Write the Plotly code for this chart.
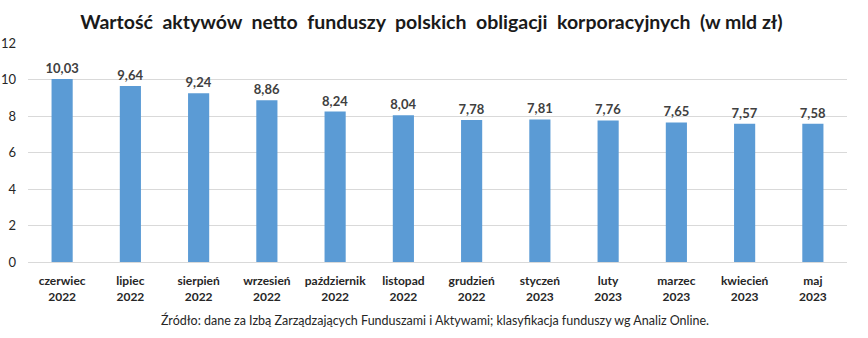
import plotly.graph_objects as go

months = ["czerwiec", "lipiec", "sierpień", "wrzesień", "październik", "listopad",
          "grudzień", "styczeń", "luty", "marzec", "kwiecień", "maj"]
years = ["2022", "2022", "2022", "2022", "2022", "2022",
         "2022", "2023", "2023", "2023", "2023", "2023"]
values = [10.03, 9.64, 9.24, 8.86, 8.24, 8.04, 7.78, 7.81, 7.76, 7.65, 7.57, 7.58]
y_ticks = [0, 2, 4, 6, 8, 10, 12]

FONT = "Lato, Open Sans, sans-serif"
categories = [f"<b>{m}<br>{y}</b>" for m, y in zip(months, years)]
labels = [f"<b>{v:.2f}</b>".replace(".", ",") for v in values]

fig = go.Figure(go.Bar(
    x=categories, y=values,
    marker=dict(color="#5B9BD5", line=dict(width=0)),
    text=labels, textposition="outside", cliponaxis=False, constraintext="none",
    textfont=dict(family=FONT, size=13, color="#404040"),
    width=0.31,
))

fig.update_layout(
    width=868, height=338,
    margin=dict(l=28, r=21, t=43, b=76),
    paper_bgcolor="white", plot_bgcolor="white",
    showlegend=False,
    title=dict(text="<b>Wartość  aktywów  netto  funduszy  polskich  obligacji  korporacyjnych  (w mld zł)</b>",
               x=0.497, xanchor="center", y=0.935, yanchor="middle",
               font=dict(family=FONT, size=19.5, color="#1a1a1a")),
    xaxis=dict(tickfont=dict(family=FONT, size=12, color="#262626"),
               showgrid=False, showline=True, linecolor="#d9d9d9", linewidth=1,
               ticks="", ticklabelstandoff=8, automargin=False),
    yaxis=dict(range=[0, 12], tickvals=y_ticks, showgrid=True, gridcolor="#d9d9d9",
               gridwidth=1, zeroline=False, ticks="", automargin=False,
               tickfont=dict(family=FONT, size=13, color="#262626"),
               ticklabelstandoff=11),
    annotations=[dict(
        text="Źródło: dane za Izbą Zarządzających Funduszami i Aktywami; klasyfikacja funduszy wg Analiz Online.",
        xref="paper", yref="paper", x=0.497, y=-0.265, xanchor="center", yanchor="middle",
        showarrow=False, font=dict(family=FONT, size=12.5, color="#262626"))],
)

fig.write_html("out.html")
